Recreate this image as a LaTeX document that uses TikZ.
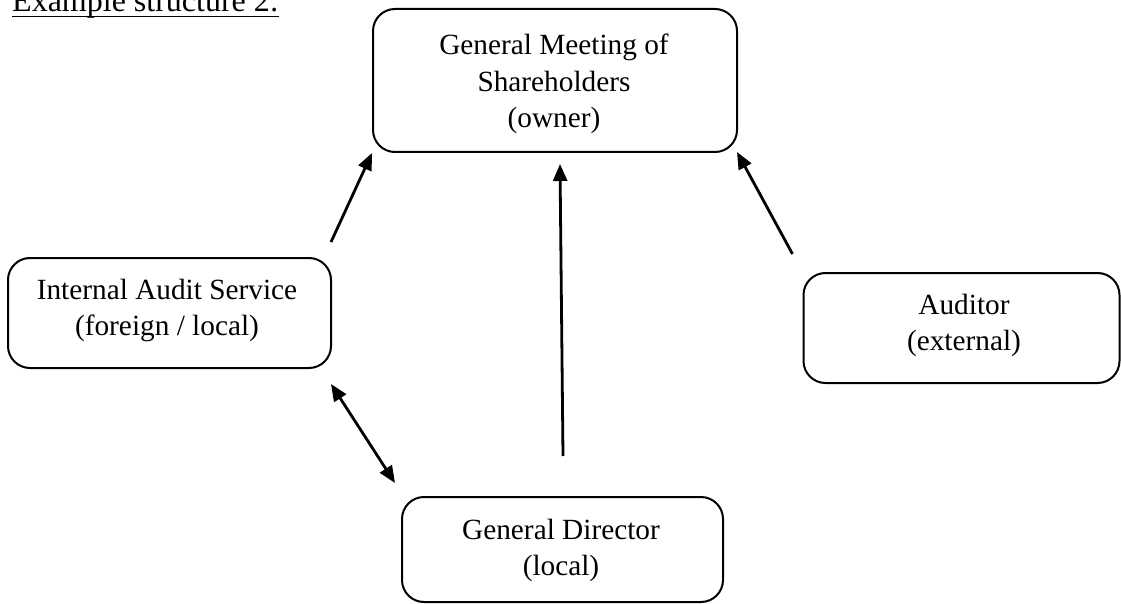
\documentclass[tikz,border=0pt]{standalone}
\usepackage{fontspec}
\setmainfont{Liberation Serif}
\usetikzlibrary{arrows.meta,calc}
\begin{document}
\begin{tikzpicture}[x=1pt,y=-1pt,
  boxnode/.style={draw=black,line width=2pt,rounded corners=22pt,rectangle,inner sep=0pt},
  linetext/.style={anchor=base,inner sep=0pt,font=\fontsize{29.3}{36.5}\selectfont},
  arr/.style={line width=2.8pt,-{Triangle[length=17pt,width=14pt]}},
  dblarr/.style={line width=2.8pt,{Triangle[length=17pt,width=14pt]}-{Triangle[length=17pt,width=14pt]}}]
\useasboundingbox (0,0) rectangle (1121,604);
% title
\node[anchor=base west,inner sep=0pt,font=\fontsize{32}{38}\selectfont] (title) at (12,12) {Example structure 2:};
\draw[line width=1.6pt] ($(title.base west)+(0,4.5)$) -- ($(title.base east)+(0,4.5)$);
% boxes
\node[boxnode,minimum width=364pt,minimum height=143pt] (gm) at (555,80.5) {};
\node[boxnode,minimum width=323pt,minimum height=110pt] (ia) at (169.5,313) {};
\node[boxnode,minimum width=316pt,minimum height=110pt] (au) at (961.5,328) {};
\node[boxnode,minimum width=321pt,minimum height=105pt] (gd) at (562.5,549.5) {};
% texts
\node[linetext] (gm1) at (554,55) {General Meeting of};
\node[linetext] (gm2) at (554,91.5) {Shareholders};
\node[linetext] (gm3) at (554,128) {(owner)};
\node[linetext] (ia1) at (167,299) {Internal Audit Service};
\node[linetext] (ia2) at (167,335.5) {(foreign / local)};
\node[linetext] (au1) at (964,314) {Auditor};
\node[linetext] (au2) at (964,350.5) {(external)};
\node[linetext] (gd1) at (561,539) {General Director};
\node[linetext] (gd2) at (561,575.5) {(local)};
% connectors
\draw[arr] ($(ia.north east)+(-1,-15)$) -- (gm.south west);
\draw[arr] ($(gd.north)+(0.5,-40)$) -- ($(gm.south)+(5,11)$);
\draw[arr] ($(au.north west)+(-10,-18)$) -- ($(gm.south east)+(-1,-1)$);
\draw[dblarr] ($(ia.south east)+(-1,15)$) -- ($(gd.north west)+(-6,-13)$);
\end{tikzpicture}
\end{document}
